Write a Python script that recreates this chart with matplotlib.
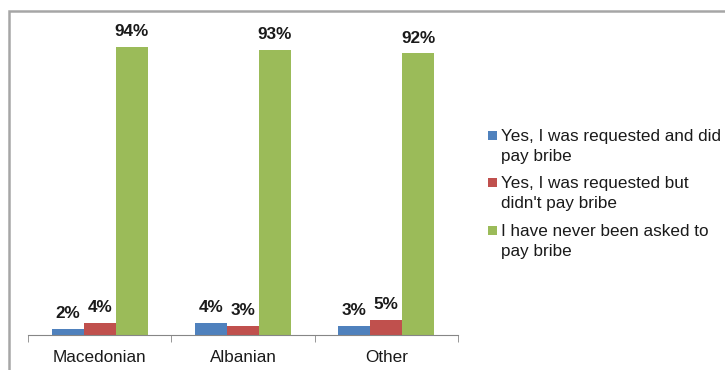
import matplotlib.pyplot as plt
import numpy as np
from matplotlib.patches import Rectangle

plt.rcParams['font.family'] = ['Liberation Sans', 'DejaVu Sans']

# Data
groups = ['Macedonian', 'Albanian', 'Other']
series_names = ['Yes, I was requested and did\npay bribe',
                'Yes, I was requested but\ndidn\'t pay bribe',
                'I have never been asked to\npay bribe']
paid = [2, 4, 3]
refused = [4, 3, 5]
never_asked = [94, 93, 92]
colors = ['#4F81BD', '#C0504D', '#9BBB59']

W, H = 725, 370
fig = plt.figure(figsize=(W / 100, H / 100), dpi=100)
ax = fig.add_axes([28 / W, 35 / H, 430 / W, 306 / H])

# Outer chart frame (runs past the right and bottom edges)
fig.patches.append(Rectangle((9 / W, -0.1), 1.2, (H - 11) / H + 0.1,
                             transform=fig.transFigure, fill=False,
                             edgecolor='#A6A6A6', linewidth=1.8))

x = np.arange(len(groups))
w = 0.223
for i, (vals, c) in enumerate(zip([paid, refused, never_asked], colors)):
    bars = ax.bar(x + (i - 1) * w, vals, w, color=c)
    for b, v in zip(bars, vals):
        ax.text(b.get_x() + b.get_width() / 2, v + 2.6, f'{v}%',
                ha='center', va='bottom', fontsize=12.3, fontweight='bold',
                color='#1a1a1a')

ax.set_xlim(-0.5, 2.5)
ax.set_ylim(0, 100)
ax.set_yticks([])
for s in ['top', 'right', 'left']:
    ax.spines[s].set_visible(False)
ax.spines['bottom'].set_color('#868686')
ax.set_xticks(x)
ax.set_xticklabels(groups, fontsize=12.3, color='#1a1a1a')
ax.tick_params(axis='x', which='major', length=0, pad=11)
ax.set_xticks([-0.5, 0.5, 1.5, 2.5], minor=True)
ax.tick_params(axis='x', which='minor', length=5, color='#868686')

# Legend: square beside the first line of each entry
for k, (name, c) in enumerate(zip(series_names, colors)):
    y0 = 135 + k * 47.5
    fig.patches.append(Rectangle((488 / W, 1 - (y0 + 4.5) / H), 9 / W, 9 / H,
                                 transform=fig.transFigure, facecolor=c,
                                 edgecolor='none'))
    for j, line in enumerate(name.split('\n')):
        fig.text(501 / W, 1 - (y0 + j * 20) / H, line, fontsize=12.3,
                 color='#1a1a1a', ha='left', va='center_baseline')

fig.savefig('out.png', dpi=100)
